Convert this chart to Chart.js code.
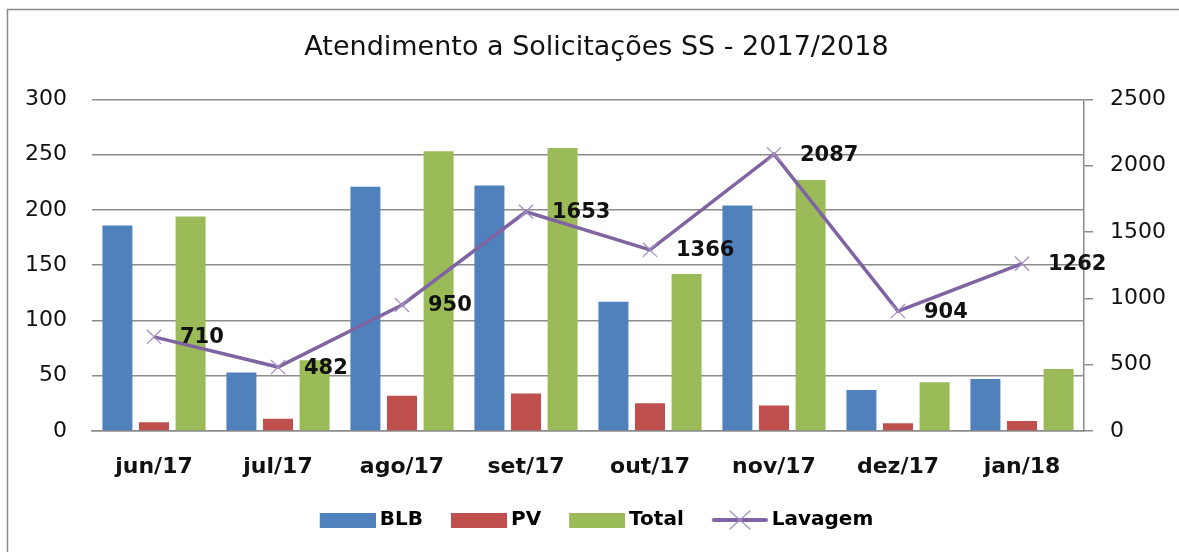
<!DOCTYPE html>
<html>
<head>
<meta charset="utf-8">
<script src="https://cdn.jsdelivr.net/npm/chart.js@4.4.0/dist/chart.umd.min.js"></script>
<style>
  html, body { margin: 0; padding: 0; background: #fff; }
  #wrap { width: 1179px; height: 552px; position: relative; }
</style>
</head>
<body>
<div id="wrap"><canvas id="chart" width="1179" height="552"></canvas></div>
<script>
// data
const months = ["jun/17", "jul/17", "ago/17", "set/17", "out/17", "nov/17", "dez/17", "jan/18"];
const blb = [186, 53, 221, 222, 117, 204, 37, 47];
const pv = [8, 11, 32, 34, 25, 23, 7, 9];
const total = [194, 64, 253, 256, 142, 227, 44, 56];
const lavagem = [710, 482, 950, 1653, 1366, 2087, 904, 1262];

const FONT = "'DejaVu Sans', Verdana, sans-serif";
const GRID = "#8c8c8c";

// legend swatches (drawn a bit wider than the legend box so text sits close)
function swatch(color) {
  const c = document.createElement("canvas");
  c.width = 62; c.height = 15;
  const g = c.getContext("2d");
  g.fillStyle = color;
  g.fillRect(6, 0, 56, 15);
  return c;
}
function lineSwatch(color) {
  const c = document.createElement("canvas");
  c.width = 62; c.height = 22;
  const g = c.getContext("2d");
  g.strokeStyle = color; g.lineWidth = 4;
  g.lineCap = "round";
  g.beginPath(); g.moveTo(8, 11); g.lineTo(60, 11); g.stroke();
  g.strokeStyle = "#a58fc4"; g.lineWidth = 1.3;
  g.beginPath();
  g.moveTo(24, 2); g.lineTo(44, 20);
  g.moveTo(44, 2); g.lineTo(24, 20);
  g.stroke();
  return c;
}

// frame round the whole chart
const framePlugin = {
  id: "frame",
  beforeDraw(chart) {
    const ctx = chart.ctx;
    ctx.save();
    ctx.strokeStyle = "#8a8a8a";
    ctx.lineWidth = 1.5;
    ctx.strokeRect(7.5, 9.5, 1190, 560);
    ctx.restore();
  }
};

// value labels next to the line points
const lineLabels = {
  id: "lineLabels",
  afterDatasetsDraw(chart) {
    const ctx = chart.ctx;
    const meta = chart.getDatasetMeta(3);
    ctx.save();
    ctx.font = "bold 21px " + FONT;
    ctx.fillStyle = "#111";
    ctx.textAlign = "left";
    ctx.textBaseline = "middle";
    meta.data.forEach((pt, i) => {
      ctx.fillText(String(lavagem[i]), pt.x + 26, pt.y + 1);
    });
    ctx.restore();
  }
};

const swatches = [swatch("#4F81BD"), swatch("#C0504D"), swatch("#9BBB59"), lineSwatch("#8064A2")];

new Chart(document.getElementById("chart"), {
  data: {
    labels: months,
    datasets: [
      { type: "bar", label: "BLB", data: blb, backgroundColor: "#4F81BD", yAxisID: "y", order: 1 },
      { type: "bar", label: "PV", data: pv, backgroundColor: "#C0504D", yAxisID: "y", order: 1 },
      { type: "bar", label: "Total", data: total, backgroundColor: "#9BBB59", yAxisID: "y", order: 1 },
      { type: "line", label: "Lavagem", data: lavagem, yAxisID: "y1",
        borderColor: "#8064A2", borderWidth: 3.5, tension: 0,
        pointStyle: "crossRot", pointRadius: 10, pointBorderWidth: 1.3,
        pointBorderColor: "#a58fc4", pointBackgroundColor: "#a58fc4", order: 0 }
    ]
  },
  plugins: [framePlugin, lineLabels],
  options: {
    responsive: false,
    animation: false,
    datasets: { bar: { categoryPercentage: 0.885, barPercentage: 0.82 } },
    layout: { padding: { left: 14, right: 0, top: 0, bottom: 12 } },
    plugins: {
      title: {
        display: true,
        text: "Atendimento a Solicitações SS - 2017/2018",
        color: "#111",
        font: { family: FONT, size: 27, weight: "normal" },
        padding: { top: 32, bottom: 35 }
      },
      legend: {
        position: "bottom",
        labels: {
          usePointStyle: true,
          pointStyleWidth: 50,
          boxHeight: 15,
          padding: 28,
          color: "#111",
          font: { family: FONT, size: 20, weight: "bold" },
          generateLabels(chart) {
            return chart.data.datasets.map((ds, i) => ({
              text: ds.label,
              pointStyle: swatches[i],
              fillStyle: "transparent",
              strokeStyle: "transparent",
              lineWidth: 0,
              datasetIndex: i,
              hidden: false
            }));
          }
        }
      },
      tooltip: { enabled: false }
    },
    scales: {
      x: {
        grid: { display: false, drawTicks: false },
        border: { display: true, color: GRID, width: 1.5 },
        ticks: { color: "#111", padding: 23, font: { family: FONT, size: 22, weight: "bold" } },
        afterFit(scale) { scale.height = 51; }
      },
      y: {
        position: "left",
        min: 0, max: 300,
        ticks: { stepSize: 50, color: "#111", padding: 25, font: { family: FONT, size: 22 } },
        grid: { color: GRID, lineWidth: 1.5, drawTicks: false },
        border: { display: false },
        afterFit(scale) { scale.width = 78; }
      },
      y1: {
        position: "right",
        min: 0, max: 2500,
        ticks: { stepSize: 500, color: "#111", padding: 17, font: { family: FONT, size: 22 },
                 callback: v => String(v) },
        grid: { drawOnChartArea: false, drawTicks: true, tickLength: 9, color: GRID, lineWidth: 1.5 },
        border: { display: true, color: GRID, width: 1.5 },
        afterFit(scale) { scale.width = 95; }
      }
    }
  }
});
</script>
</body>
</html>
